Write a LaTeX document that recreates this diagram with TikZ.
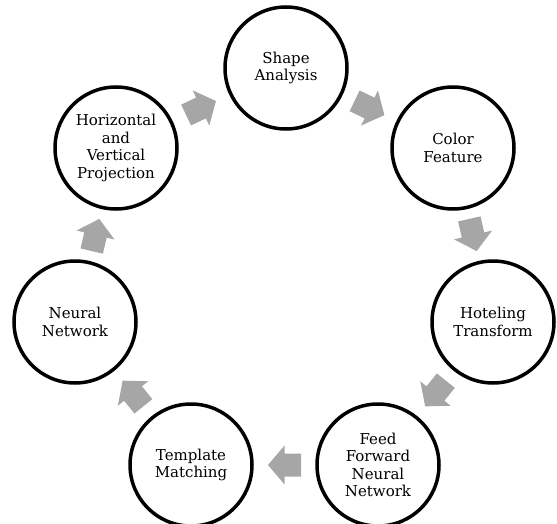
\documentclass[tikz,border=0pt]{standalone}
\usepackage{fontspec}
\setmainfont{DejaVu Serif}
\usetikzlibrary{calc}
\definecolor{arrowgray}{RGB}{166,166,166}
\begin{document}
\begin{tikzpicture}[x=1pt,y=-1pt,
  stage/.style={circle, draw=black, line width=3.5pt, minimum size=122pt, inner sep=0pt,
    align=center, fill=white, font=\fontsize{15}{17.5}\selectfont},
  cyclearrow/.pic={\fill[arrowgray] (-16.5,-11.5) -- (0,-11.5) -- (0,-19.5) -- (16.5,0)
    -- (0,19.5) -- (0,11.5) -- (-16.5,11.5) -- cycle;}]
\useasboundingbox (0,0) rectangle (557,524);
\node[stage] (sa) at (286,68)  {Shape\\Analysis};
\node[stage] (cf) at (453,148) {Color\\Feature};
\node[stage] (ht) at (493,322) {Hoteling\\Transform};
\node[stage] (ff) at (378,465) {Feed\\Forward\\Neural\\Network};
\node[stage] (tm) at (191,465) {Template\\Matching};
\node[stage] (nn) at (75,322)  {Neural\\Network};
\node[stage] (hv) at (116,148) {Horizontal\\and\\Vertical\\Projection};
\foreach \a/\b in {hv/sa, sa/cf, cf/ht, ht/ff, ff/tm, tm/nn, nn/hv} {
  \path let \p1=($(\b)-(\a)$), \n1={atan2(\y1,\x1)} in
    ($(\a)!0.5!(\b)$) pic[rotate=\n1] {cyclearrow};
}
\end{tikzpicture}
\end{document}
